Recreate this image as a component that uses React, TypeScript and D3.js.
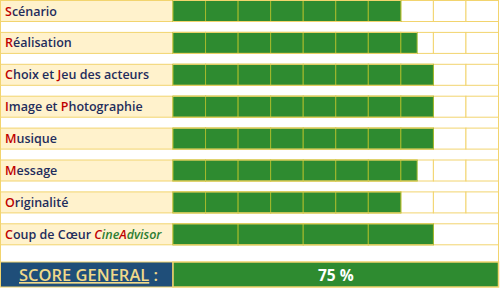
import React from "react";
import * as d3 from "d3";

// criteria labels: each part is [text, style] where r = red letter, n = navy, g = green italic, ri = red italic
const labelParts: [string, string][][] = [
  [["S", "r"], ["cénario", "n"]],
  [["R", "r"], ["éalisation", "n"]],
  [["C", "r"], ["hoix et ", "n"], ["J", "r"], ["eu des acteurs", "n"]],
  [["I", "r"], ["mage et ", "n"], ["P", "r"], ["hotographie", "n"]],
  [["M", "r"], ["usique", "n"]],
  [["M", "r"], ["essage", "n"]],
  [["O", "r"], ["riginalité", "n"]],
  [["C", "r"], ["oup de Cœur ", "n"], ["C", "ri"], ["ine", "g"], ["A", "ri"], ["dvisor", "g"]],
];
const scores = [7, 7.5, 8, 8, 8, 7.5, 7, 8];
const cellSpan = [1, 1, 1, 1, 1, 1, 1, 2];
const maxScore = 10;
const totalLabel = "SCORE GENERAL";
const totalValue = "75 %";

const W = 500;
const H = 295;
const LABEL_W = 173;
const ROW_H = 21;
const ROW_STEP = 31.9;

const GOLD = "#f2d46e";
const CREAM = "#fff2cc";
const GREEN = "#2e8b30";
const GREEN_LINE = "#a4b92c";
const NAVY = "#1f2d5c";
const RED = "#c00000";
const BLUE = "#1f4e79";

const styleOf = (s: string) => {
  if (s === "r") return { fill: RED, fontStyle: "normal" };
  if (s === "ri") return { fill: RED, fontStyle: "italic" };
  if (s === "g") return { fill: "#2e7d32", fontStyle: "italic" };
  return { fill: NAVY, fontStyle: "normal" };
};

const App = () => {
  const x = d3.scaleLinear().domain([0, maxScore]).range([LABEL_W, 498.5]);
  const rowY = (i: number) => 0.5 + i * ROW_STEP;
  const scoreTop = 262;
  const scoreH = 25;

  return (
    <svg width={W} height={H} style={{ position: "absolute", left: 0, top: 0 }}
      fontFamily="'Open Sans', sans-serif">
      <rect x={0} y={0} width={W} height={H} fill="#fff" />
      {/* outer vertical borders */}
      <line x1={0.5} x2={0.5} y1={0.5} y2={scoreTop} stroke={GOLD} />
      <line x1={498.5} x2={498.5} y1={0.5} y2={scoreTop} stroke={GOLD} />
      {scores.map((v, i) => {
        const y = rowY(i);
        const span = cellSpan[i];
        const cells = d3.range(0, maxScore, span);
        return (
          <g key={i}>
            <rect x={0.5} y={y} width={LABEL_W - 0.5} height={ROW_H} fill={CREAM} stroke={GOLD} />
            {cells.map((c) => (
              <rect key={"c" + c} x={x(c)} y={y} width={x(c + span) - x(c)} height={ROW_H}
                fill="#fff" stroke={GOLD} />
            ))}
            {cells.filter((c) => c < v).map((c) => (
              <rect key={"g" + c} x={x(c)} y={y} width={x(Math.min(c + span, v)) - x(c)} height={ROW_H}
                fill={GREEN} stroke={GREEN_LINE} />
            ))}
            <line x1={x(0)} x2={x(v)} y1={y} y2={y} stroke={GOLD} />
            <line x1={x(0)} x2={x(v)} y1={y + ROW_H} y2={y + ROW_H} stroke={GOLD} />
            <text x={5} y={y + 15} fontSize={12.5} fontWeight={600}>
              {labelParts[i].map(([t, s], k) => {
                const st = styleOf(s);
                return (
                  <tspan key={k} fill={st.fill} fontStyle={st.fontStyle}>{t}</tspan>
                );
              })}
            </text>
          </g>
        );
      })}
      {/* total row */}
      <rect x={0.5} y={scoreTop} width={LABEL_W - 0.5} height={scoreH} fill={BLUE} stroke={GOLD} />
      <rect x={x(0)} y={scoreTop} width={x(maxScore) - x(0)} height={scoreH} fill={GREEN} stroke={GOLD} strokeWidth={1.5} />
      <text x={19} y={scoreTop + 19} fontSize={16.5} fontWeight={600} fill="#f0d98a">
        <tspan textDecoration="underline">{totalLabel}</tspan>
        <tspan> :</tspan>
      </text>
      <text x={(x(0) + x(maxScore)) / 2} y={scoreTop + 18.5} textAnchor="middle" fontSize={15.5} fontWeight={700} fill="#fff">
        {totalValue}
      </text>
    </svg>
  );
};

export default App;
